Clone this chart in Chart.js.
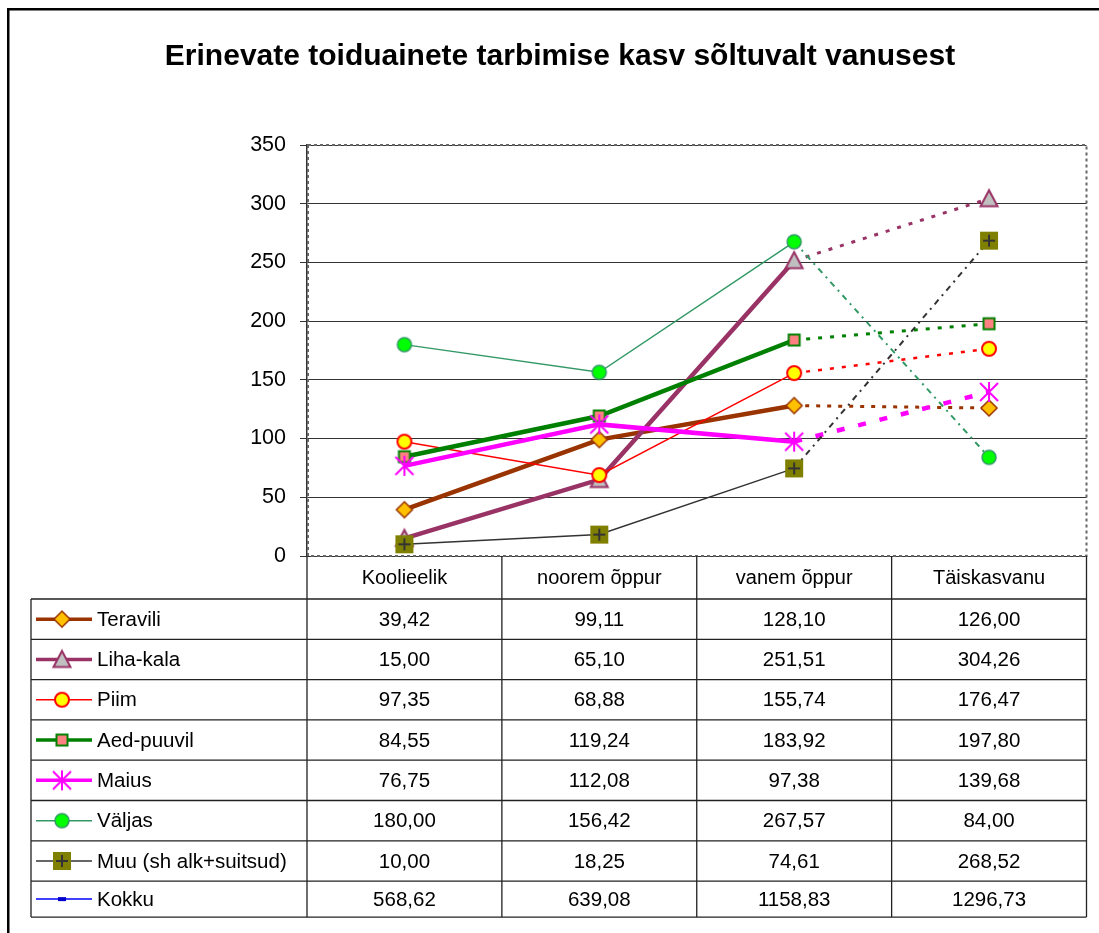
<!DOCTYPE html>
<html>
<head>
<meta charset="utf-8">
<script src="https://cdn.jsdelivr.net/npm/chart.js@4.4.0/dist/chart.umd.min.js"></script>
<style>
html, body { margin: 0; padding: 0; background: #fff; }
#wrap { position: relative; width: 1099px; height: 933px; }
</style>
</head>
<body>
<div id="wrap"><canvas id="foodChart" width="1099" height="933"></canvas></div>
<script>
// ---- data ----
const categories = ['Koolieelik', 'noorem õppur', 'vanem õppur', 'Täiskasvanu'];
const seriesNames = ['Teravili', 'Liha-kala', 'Piim', 'Aed-puuvil', 'Maius', 'Väljas', 'Muu (sh alk+suitsud)', 'Kokku'];
const teravili  = [39.42, 99.11, 128.10, 126.00];
const lihaKala  = [15.00, 65.10, 251.51, 304.26];
const piim      = [97.35, 68.88, 155.74, 176.47];
const aedPuuvil = [84.55, 119.24, 183.92, 197.80];
const maius     = [76.75, 112.08, 97.38, 139.68];
const valjas    = [180.00, 156.42, 267.57, 84.00];
const muu       = [10.00, 18.25, 74.61, 268.52];
const kokku     = [568.62, 639.08, 1158.83, 1296.73];
const yTicks = [0, 50, 100, 150, 200, 250, 300, 350];

const seriesValues = [teravili, lihaKala, piim, aedPuuvil, maius, valjas, muu, kokku];
const titleText = 'Erinevate toiduainete tarbimise kasv sõltuvalt vanusest';
const FONT = '"Liberation Sans", Arial, sans-serif';

// line + marker look per series (last segment is dotted, like the Excel original)
const styles = [
    { color: '#993300', width: 4.5, dash: [4, 7], dashWidth: 3, marker: 'diamond' },
    { color: '#993366', width: 4.5, dash: [4, 8], dashWidth: 3, marker: 'triangle' },
    { color: '#FF0000', width: 1.5, dash: [4, 8], dashWidth: 2.5, marker: 'circleYellow' },
    { color: '#008000', width: 4.5, dash: [4, 8], dashWidth: 3, marker: 'square' },
    { color: '#FF00FF', width: 4.5, dash: [8, 14], dashWidth: 4.5, marker: 'star' },
    { color: '#339966', width: 1.5, dash: [6, 5, 2, 5], dashWidth: 2, marker: 'circleGreen' },
    { color: '#333333', width: 1.5, dash: [6, 5, 2, 5], dashWidth: 2, marker: 'plusBox' },
    { color: '#0000FF', width: 1.5, dash: [4, 8], dashWidth: 2, marker: 'dash' }
];

// small canvases used as point styles (and reused in the table legend)
function makeMarker(kind) {
    const c = document.createElement('canvas');
    c.width = 26; c.height = 26;
    const g = c.getContext('2d');
    const m = 13;
    g.lineWidth = 2;
    switch (kind) {
        case 'diamond':
            g.beginPath();
            g.moveTo(m, m - 8); g.lineTo(m + 8, m); g.lineTo(m, m + 8); g.lineTo(m - 8, m);
            g.closePath();
            g.fillStyle = '#FFC000'; g.fill();
            g.strokeStyle = '#993300'; g.lineWidth = 1.5; g.stroke();
            break;
        case 'triangle':
            g.beginPath();
            g.moveTo(m, m - 8.5); g.lineTo(m + 8.5, m + 7.5); g.lineTo(m - 8.5, m + 7.5);
            g.closePath();
            g.fillStyle = '#C0C0C0'; g.fill();
            g.strokeStyle = '#993366'; g.stroke();
            break;
        case 'circleYellow':
            g.beginPath(); g.arc(m, m, 7, 0, Math.PI * 2);
            g.fillStyle = '#FFFF00'; g.fill();
            g.strokeStyle = '#FF0000'; g.stroke();
            break;
        case 'circleGreen':
            g.beginPath(); g.arc(m, m, 7, 0, Math.PI * 2);
            g.fillStyle = '#00FF00'; g.fill();
            g.strokeStyle = '#339966'; g.lineWidth = 1.5; g.stroke();
            break;
        case 'square':
            g.fillStyle = '#FF8080'; g.fillRect(m - 5.5, m - 5.5, 11, 11);
            g.strokeStyle = '#008000'; g.strokeRect(m - 5.5, m - 5.5, 11, 11);
            break;
        case 'star':
            g.strokeStyle = '#FF00FF';
            g.beginPath();
            g.moveTo(m, m - 10); g.lineTo(m, m + 10);
            g.moveTo(m - 9, m - 9); g.lineTo(m + 9, m + 9);
            g.moveTo(m + 9, m - 9); g.lineTo(m - 9, m + 9);
            g.stroke();
            break;
        case 'plusBox':
            g.fillStyle = '#808000'; g.fillRect(m - 9, m - 9, 18, 18);
            g.strokeStyle = '#333333';
            g.beginPath();
            g.moveTo(m - 6, m); g.lineTo(m + 6, m);
            g.moveTo(m, m - 6); g.lineTo(m, m + 6);
            g.stroke();
            break;
        case 'dash':
            g.fillStyle = '#0000CC'; g.fillRect(m - 4, m - 2, 8, 4);
            break;
    }
    return c;
}
const markerImgs = styles.map(s => makeMarker(s.marker));

const datasets = seriesValues.map((vals, i) => ({
    label: seriesNames[i],
    data: vals,
    borderColor: styles[i].color,
    backgroundColor: styles[i].color,
    borderWidth: styles[i].width,
    pointStyle: markerImgs[i],
    pointRadius: 8,
    tension: 0,
    order: 10 - i, // later series on top, as in Excel
    segment: {
        borderDash: ctx => ctx.p0DataIndex === 2 ? styles[i].dash : undefined,
        borderWidth: ctx => ctx.p0DataIndex === 2 ? styles[i].dashWidth : undefined
    }
}));

const fmt = v => v.toFixed(2).replace('.', ',');

// table geometry
const tableLeft = 31;
const tableTop = 599;
const rowH = 40.3;
const lastRowH = 36;

const framePlugin = {
    id: 'frame',
    beforeDraw(chart) {
        const ctx = chart.ctx;
        ctx.save();
        ctx.fillStyle = '#fff';
        ctx.fillRect(0, 0, chart.width, chart.height);
        ctx.restore();
    },
    beforeDatasetsDraw(chart) {
        const { ctx, chartArea: a } = chart;
        ctx.save();
        ctx.strokeStyle = '#666';
        ctx.lineWidth = 2;
        ctx.setLineDash([3, 3]);
        ctx.strokeRect(a.left + 1, a.top, a.right - a.left - 1, a.bottom - a.top);
        ctx.restore();
    },
    afterDraw(chart) {
        const { ctx, chartArea: a } = chart;
        const x = chart.scales.x;
        ctx.save();

        // outer chart frame (only top and left visible)
        ctx.fillStyle = '#000';
        ctx.fillRect(7, 8, 2.5, chart.height - 8);
        ctx.fillRect(7, 8, chart.width - 7, 2.5);

        // title
        ctx.fillStyle = '#000';
        ctx.font = 'bold 30px ' + FONT;
        ctx.textAlign = 'center';
        ctx.textBaseline = 'alphabetic';
        ctx.fillText(titleText, 560, 65);

        // data table
        const centers = categories.map((_, i) => x.getPixelForValue(i));
        const step = centers[1] - centers[0];
        const bounds = [a.left].concat(centers.map(c => c + step / 2));
        const rowsY = [tableTop];
        seriesNames.forEach((_, r) => rowsY.push(rowsY[r] + (r === seriesNames.length - 1 ? lastRowH : rowH)));
        const tableBottom = rowsY[rowsY.length - 1];

        ctx.strokeStyle = '#222';
        ctx.lineWidth = 1.3;
        ctx.beginPath();
        bounds.forEach(bx => { ctx.moveTo(bx, a.bottom); ctx.lineTo(bx, tableBottom); });
        ctx.moveTo(tableLeft, tableTop); ctx.lineTo(tableLeft, tableBottom);
        rowsY.forEach(ry => { ctx.moveTo(tableLeft, ry); ctx.lineTo(a.right, ry); });
        ctx.stroke();

        // header row: category names
        ctx.fillStyle = '#000';
        ctx.textAlign = 'center';
        ctx.textBaseline = 'middle';
        ctx.font = '20px ' + FONT;
        categories.forEach((cat, c) => ctx.fillText(cat, centers[c], (a.bottom + tableTop) / 2 + 1));

        ctx.font = '20.5px ' + FONT;
        seriesNames.forEach((name, r) => {
            const cy = (rowsY[r] + rowsY[r + 1]) / 2;
            // legend key
            ctx.strokeStyle = styles[r].color;
            ctx.lineWidth = Math.min(styles[r].width, 3.5);
            ctx.setLineDash([]);
            ctx.beginPath();
            ctx.moveTo(36, cy); ctx.lineTo(92, cy);
            ctx.stroke();
            const img = markerImgs[r];
            ctx.drawImage(img, 62 - img.width / 2, cy - img.height / 2);
            // label
            ctx.fillStyle = '#000';
            ctx.textAlign = 'left';
            ctx.fillText(name, 97, cy + 1);
            // values
            ctx.textAlign = 'center';
            seriesValues[r].forEach((v, c) => ctx.fillText(fmt(v), centers[c], cy + 1));
        });
        ctx.restore();
    }
};

new Chart(document.getElementById('foodChart'), {
    type: 'line',
    data: { labels: categories, datasets: datasets },
    options: {
        responsive: false,
        animation: false,
        events: [],
        layout: { padding: { top: 145, right: 9, bottom: 933 - tableTop, left: 0 } },
        plugins: {
            legend: { display: false },
            tooltip: { enabled: false },
            title: { display: false }
        },
        scales: {
            x: {
                offset: true,
                grid: { display: false, drawTicks: false },
                border: { display: false },
                ticks: { display: false },
                afterFit: s => { s.height = 43; s.paddingLeft = 0; s.paddingRight = 0; }
            },
            y: {
                min: yTicks[0],
                max: yTicks[yTicks.length - 1],
                ticks: { stepSize: yTicks[1] - yTicks[0], color: '#000', font: { family: FONT, size: 21.5 }, padding: 14 },
                grid: { color: '#333', lineWidth: 1, tickLength: 7 },
                border: { display: true, color: '#333', width: 1.5 },
                afterFit: s => { s.width = 307; s.paddingLeft = 0; s.paddingRight = 0; }
            }
        }
    },
    plugins: [framePlugin]
});
</script>
</body>
</html>
